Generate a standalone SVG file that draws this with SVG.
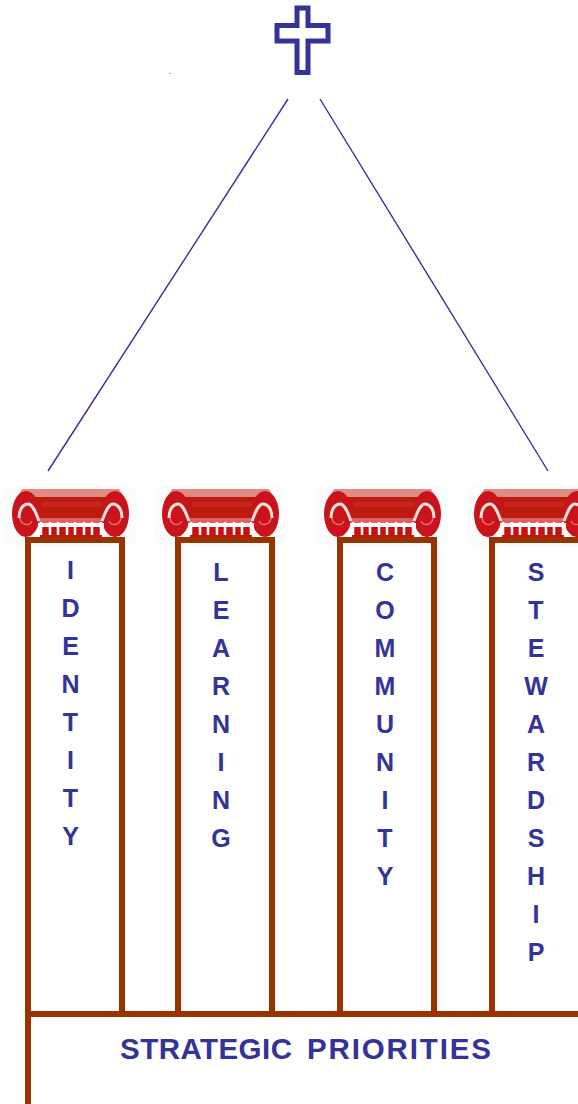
<svg xmlns="http://www.w3.org/2000/svg" width="578" height="1104" viewBox="0 0 578 1104">
<style>
.beam{fill:none;stroke:#993300;stroke-width:6;stroke-linejoin:miter}
.roof{fill:none;stroke:#333399;stroke-width:1.4}
.l{font-family:"Liberation Sans",Arial,sans-serif;font-weight:700;font-size:25px;fill:#333399;text-anchor:middle}
.t{font-family:"Liberation Sans",Arial,sans-serif;font-weight:700;font-size:29.500px;fill:#333399}
</style>
<defs>
<g id="capital">
<rect x="-8" y="-3" width="133" height="60" rx="10" fill="#fbfcfc"/>
<path d="M10 0H107L112 9H5Z" fill="#e08c84"/>
<rect x="14" y="8" width="90" height="21" fill="#bd1a10"/>
<rect x="30" y="13" width="60" height="5" fill="#c3261a"/>
<rect x="26" y="29" width="68" height="5" fill="#e2605c"/>
<ellipse cx="14" cy="25" rx="14" ry="23" fill="#c8141a"/>
<ellipse cx="103" cy="25" rx="14" ry="23" fill="#c8141a"/>
<path d="M7 29C7 19 12 15 16 15C21 15 24 24 27 32" fill="none" stroke="#f8e4dc" stroke-width="3"/>
<path d="M110 29C110 19 105 15 101 15C96 15 93 24 90 32" fill="none" stroke="#f8e4dc" stroke-width="3"/>
<path d="M8 29C9 36 17 38 20 32" fill="none" stroke="#e8716c" stroke-width="1.500"/>
<path d="M109 29C108 36 100 38 97 32" fill="none" stroke="#e8716c" stroke-width="1.500"/>
<rect x="26" y="34" width="66" height="14" fill="#fff"/>
<rect x="28" y="38" width="62" height="10" fill="#c8120f"/>
<path d="M29 33V46M38 33V46M46 33V46M55 33V46M63 33V46M72 33V46M80 33V46M89 33V46" stroke="#fff" stroke-width="2.500"/>
</g>
</defs>
<rect width="578" height="1104" fill="#fff"/>
<g id="cross"><path d="M297 8H308V25.500H328V41H308V72.500H297V41H277V25.500H297Z" fill="none" stroke="#333399" stroke-width="5"/></g>
<rect id="speck" x="169.500" y="73" width="1" height="1" fill="#333"/>
<g id="identity"><use href="#capital" x="12" y="489"/>
<text class="l"><tspan x="70.500" y="579">I</tspan><tspan x="70.500" y="617">D</tspan><tspan x="70.500" y="655">E</tspan><tspan x="70.500" y="693">N</tspan><tspan x="70.500" y="731">T</tspan><tspan x="70.500" y="769">I</tspan><tspan x="70.500" y="807">T</tspan><tspan x="70.500" y="845">Y</tspan></text></g>
<g id="learning"><use href="#capital" x="162" y="489"/>
<text class="l"><tspan x="221" y="581">L</tspan><tspan x="221" y="619">E</tspan><tspan x="221" y="657">A</tspan><tspan x="221" y="695">R</tspan><tspan x="221" y="733">N</tspan><tspan x="221" y="771">I</tspan><tspan x="221" y="809">N</tspan><tspan x="221" y="847">G</tspan></text></g>
<g id="community"><use href="#capital" x="324" y="489"/>
<text class="l"><tspan x="385" y="581">C</tspan><tspan x="385" y="619">O</tspan><tspan x="385" y="657">M</tspan><tspan x="385" y="695">M</tspan><tspan x="385" y="733">U</tspan><tspan x="385" y="771">N</tspan><tspan x="385" y="809">I</tspan><tspan x="385" y="847">T</tspan><tspan x="385" y="885">Y</tspan></text></g>
<g id="stewardship"><use href="#capital" x="474" y="489"/>
<text class="l"><tspan x="536" y="581">S</tspan><tspan x="536" y="619">T</tspan><tspan x="536" y="657">E</tspan><tspan x="536" y="695">W</tspan><tspan x="536" y="733">A</tspan><tspan x="536" y="771">R</tspan><tspan x="536" y="809">D</tspan><tspan x="536" y="847">S</tspan><tspan x="536" y="885">H</tspan><tspan x="536" y="923">I</tspan><tspan x="536" y="961">P</tspan></text></g>
<g id="priorities"><text class="t" x="120" y="1059" textLength="172" lengthAdjust="spacing">STRATEGIC</text><text class="t" x="307" y="1059" textLength="184" lengthAdjust="spacing">PRIORITIES</text></g>
<g id="connectors">
<path class="roof" d="M288 99L48 471"/>
<path class="roof" d="M320 99L548 471"/>
<path class="beam" d="M28 1104V540H122V1014M28 1014H578M178 1014V540H272V1014M340 1014V540H434V1014M492 1014V540H578"/>
</g>
</svg>
